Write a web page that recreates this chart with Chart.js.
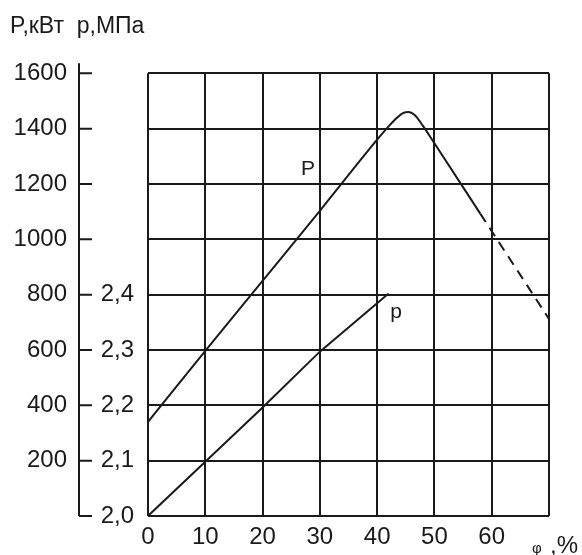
<!DOCTYPE html>
<html>
<head>
<meta charset="utf-8">
<script src="https://cdn.jsdelivr.net/npm/chart.js@4"></script>
<style>
  body { margin: 0; background: #fff; }
  #wrap { width: 582px; height: 555px; }
</style>
</head>
<body>
<div id="wrap"><canvas id="c"></canvas></div>
<script>
// power curve P, kW (dashed beyond phi = 58)
const phiPower = [0, 10, 20, 30, 40, 42, 43.5, 44.5, 45.5, 46.5, 48, 50, 58, 70];
const power = [340, 597, 850, 1103, 1360, 1408, 1440, 1456, 1460, 1450, 1410, 1347, 1093, 712];
const dashFrom = 58;

// pressure curve p, MPa
const phiPress = [0, 10, 20, 30, 42];
const press = [2.0, 2.098, 2.196, 2.297, 2.402];

// axis ticks
const phiTicks = [0, 10, 20, 30, 40, 50, 60, 70];
const powerTicks = [0, 200, 400, 600, 800, 1000, 1200, 1400, 1600];
const pressTicks = [2.0, 2.1, 2.2, 2.3, 2.4];

const font = "'Liberation Sans', Arial, sans-serif";
const ink = "#1a1a1a";

// detached axis line with ticks left of the grid, curve labels, phi unit
const sideAxis = {
  id: "sideAxis",
  afterDraw(chart) {
    const ctx = chart.ctx;
    const y = chart.scales.y;
    const x = chart.scales.x;
    const ax = y.right - 16;
    ctx.save();
    ctx.strokeStyle = ink;
    ctx.lineWidth = 2;
    ctx.beginPath();
    ctx.moveTo(ax, y.getPixelForValue(1600) - 10);
    ctx.lineTo(ax, y.getPixelForValue(0));
    powerTicks.forEach(v => {
      const py = y.getPixelForValue(v);
      ctx.moveTo(ax, py);
      ctx.lineTo(ax + 13, py);
    });
    ctx.stroke();

    ctx.fillStyle = ink;
    ctx.textBaseline = "middle";
    ctx.font = "21px " + font;
    ctx.fillText("P", x.getPixelForValue(26.7), y.getPixelForValue(1255));
    ctx.fillText("p", x.getPixelForValue(42.3), y.getPixelForValue(735));

    ctx.textBaseline = "alphabetic";
    const x70 = x.getPixelForValue(70);
    ctx.font = "15px " + font;
    ctx.fillText("φ", x70 - 17, 553);
    ctx.font = "24px " + font;
    ctx.fillText(",%", x70 + 1, 553);
    ctx.restore();
  }
};

// keep the tick padding from pushing the plot area
const noPad = s => { s.paddingTop = 0; s.paddingBottom = 0; };

new Chart(document.getElementById("c"), {
  type: "line",
  data: {
    datasets: [
      {
        label: "P",
        data: phiPower.map((v, i) => ({ x: v, y: power[i] })),
        yAxisID: "y",
        borderColor: ink,
        borderWidth: 2,
        pointRadius: 0,
        cubicInterpolationMode: "monotone",
        segment: {
          borderDash: c => (c.p0.parsed.x >= dashFrom ? [10, 7] : undefined)
        }
      },
      {
        label: "p",
        data: phiPress.map((v, i) => ({ x: v, y: press[i] })),
        yAxisID: "y2",
        borderColor: ink,
        borderWidth: 2,
        pointRadius: 0
      }
    ]
  },
  options: {
    responsive: true,
    maintainAspectRatio: false,
    animation: false,
    layout: { padding: { left: 10, right: 33, top: 0, bottom: 0 } },
    plugins: {
      legend: { display: false },
      tooltip: { enabled: false },
      title: {
        display: true,
        text: "P,кВт  р,МПа",
        align: "start",
        color: ink,
        font: { family: font, size: 23, weight: "normal" },
        padding: { top: 13, bottom: 32.7 }
      }
    },
    scales: {
      x: {
        type: "linear",
        min: 0,
        max: 70,
        afterBuildTicks: s => { s.ticks = phiTicks.map(v => ({ value: v })); },
        afterFit: s => { s.height = 39; },
        ticks: {
          color: ink,
          padding: 7,
          font: { family: font, size: 24 },
          callback: v => (v === 70 ? "" : String(v))
        },
        grid: { color: ink, lineWidth: 2, drawTicks: false },
        border: { display: false }
      },
      y: {
        type: "linear",
        position: "left",
        weight: 1,
        min: 0,
        max: 1600,
        afterBuildTicks: s => { s.ticks = powerTicks.map(v => ({ value: v })); },
        afterFit: s => { s.width = 85; noPad(s); },
        ticks: {
          color: ink,
          padding: 28,
          font: { family: font, size: 24 },
          callback: v => (v === 0 ? "" : String(v))
        },
        grid: { color: ink, lineWidth: 2, drawTicks: false },
        border: { display: false }
      },
      y2: {
        type: "linear",
        position: "left",
        weight: 0,
        min: 2.0,
        max: 2.8,
        afterBuildTicks: s => { s.ticks = pressTicks.map(v => ({ value: v })); },
        afterFit: s => { s.width = 53; noPad(s); },
        ticks: {
          color: ink,
          padding: 6,
          font: { family: font, size: 24 },
          callback: v => v.toFixed(1).replace(".", ",")
        },
        grid: { display: false },
        border: { display: false }
      }
    }
  },
  plugins: [sideAxis]
});
</script>
</body>
</html>
